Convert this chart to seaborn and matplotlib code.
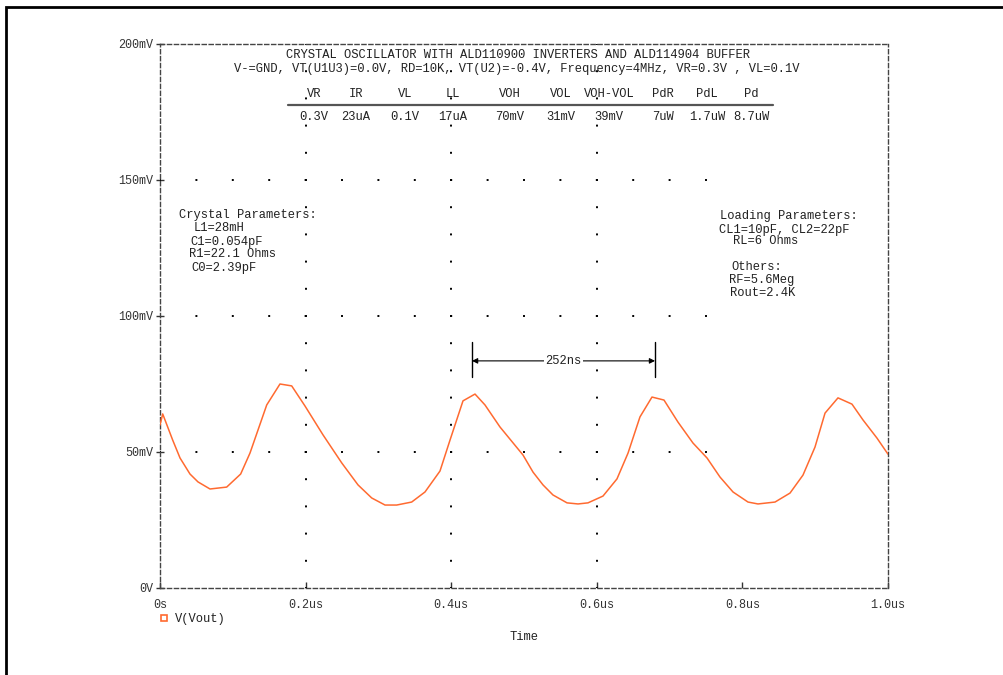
import matplotlib
matplotlib.use("Agg")
from matplotlib import pyplot as plt
from matplotlib.lines import Line2D
from matplotlib.patches import Rectangle
import seaborn as sns

# ---- data ----
time_us = [0.000, 0.0037, 0.0174, 0.0275, 0.0412, 0.0522, 0.0687, 0.0916, 0.1108, 0.1236,
           0.1466, 0.1648, 0.1809, 0.1992, 0.2239, 0.2496, 0.2720, 0.2908, 0.3091, 0.3251,
           0.3457, 0.3640, 0.3846, 0.3984, 0.4162, 0.4327, 0.4464, 0.4670, 0.4986, 0.5124,
           0.5261, 0.5398, 0.5591, 0.5742, 0.5879, 0.6085, 0.6277, 0.6429, 0.6593, 0.6758,
           0.6923, 0.7115, 0.7321, 0.7514, 0.7692, 0.7871, 0.8077, 0.8214, 0.8448, 0.8654,
           0.8832, 0.8997, 0.9135, 0.9313, 0.9505, 0.9656, 0.9849, 1.000]
vout_mv = [59.9, 64.0, 54.4, 47.8, 41.9, 39.0, 36.4, 37.1, 41.9, 49.6,
           67.3, 75.0, 74.3, 66.9, 56.3, 46.0, 37.9, 33.1, 30.5, 30.5,
           31.6, 35.3, 43.0, 54.4, 68.8, 71.3, 67.3, 59.2, 48.9, 42.6,
           37.9, 34.2, 31.3, 30.9, 31.3, 33.8, 40.1, 49.6, 62.9, 70.2,
           69.1, 61.0, 53.3, 47.8, 40.8, 35.3, 31.6, 30.9, 31.6, 34.9,
           41.5, 51.8, 64.3, 69.9, 67.6, 61.8, 55.1, 49.2]

x_ticks = [0.0, 0.2, 0.4, 0.6, 0.8, 1.0]
x_tick_labels = ["0s", "0.2us", "0.4us", "0.6us", "0.8us", "1.0us"]
y_ticks = [0, 50, 100, 150, 200]
y_tick_labels = ["0V", "50mV", "100mV", "150mV", "200mV"]

title_lines = ["CRYSTAL OSCILLATOR WITH ALD110900 INVERTERS AND ALD114904 BUFFER",
               "V-=GND, VT(U1U3)=0.0V, RD=10K, VT(U2)=-0.4V, Frequency=4MHz, VR=0.3V , VL=0.1V"]
table_headers = ["VR", "IR", "VL", "LL", "VOH", "VOL", "VOH-VOL", "PdR", "PdL", "Pd"]
table_values = ["0.3V", "23uA", "0.1V", "17uA", "70mV", "31mV", "39mV", "7uW", "1.7uW", "8.7uW"]
crystal_lines = ["Crystal Parameters:", "L1=28mH", "C1=0.054pF", "R1=22.1 Ohms", "C0=2.39pF"]
loading_lines = ["Loading Parameters:", "CL1=10pF, CL2=22pF", "RL=6 Ohms",
                 "Others:", "RF=5.6Meg", "Rout=2.4K"]
period_start, period_end = 0.4286, 0.680
period_label = "252ns"
series_name = "V(Vout)"

# ---- layout ----
col_x = [0.2115, 0.2692, 0.3365, 0.4025, 0.4808, 0.5508, 0.6168, 0.6909, 0.7514, 0.8118]
crystal_pos = [(0.0261, 137.1), (0.0467, 132.4), (0.0412, 127.2), (0.0398, 122.8), (0.0426, 117.6)]
loading_pos = [(0.7692, 136.8), (0.7679, 131.6), (0.7871, 127.6),
               (0.7844, 118.0), (0.7816, 113.2), (0.7830, 108.5)]

sns.set_style("white")
plt.rcParams['font.family'] = ['Liberation Mono', 'DejaVu Sans Mono']
plt.rcParams['lines.scale_dashes'] = False

line_color = '#ff6a30'
text_color = '#222222'
fs = 8.7

fig = plt.figure(figsize=(10.04, 6.75), dpi=100)
ax = fig.add_axes([160 / 1004, 87 / 675, 728 / 1004, 544 / 675])

sns.lineplot(x=time_us, y=vout_mv, ax=ax, color=line_color, linewidth=1.1, zorder=5)

ax.set_xlim(0, 1.0)
ax.set_ylim(0, 200)

# dotted grid, PSpice style: one dot every 0.05us / 10mV
bbox = ax.get_position()
w_pt = bbox.width * fig.get_figwidth() * 72
h_pt = bbox.height * fig.get_figheight() * 72
hx = w_pt * 0.05
vy = h_pt * 10 / 200
for gx in [0.2, 0.4, 0.6]:
    ax.plot([gx, gx], [0, 200], color='black', lw=1.4, solid_capstyle='butt',
            dash_capstyle='butt', linestyle=(0.7, (1.4, vy - 1.4)), zorder=1)
for gy in [50, 100, 150]:
    ax.plot([0, 0.752], [gy, gy], color='black', lw=1.4, dash_capstyle='butt',
            linestyle=(0.7, (1.4, hx - 1.4)), zorder=1)

# dashed frame
for s in ax.spines.values():
    s.set_linestyle((0, (3, 2)))
    s.set_color('#444444')
    s.set_linewidth(1.0)

ax.set_xticks(x_ticks, x_tick_labels)
ax.set_yticks(y_ticks, y_tick_labels)
ax.tick_params(axis='x', direction='in', length=4, width=1, color='#333333', pad=8,
               labelsize=8.5, labelcolor='#333333', bottom=True)
ax.tick_params(axis='y', direction='inout', length=6, width=1, color='#333333', pad=2,
               labelsize=8.5, labelcolor='#333333', left=True)
ax.set_xlabel("Time", fontsize=fs, color=text_color, labelpad=14)
ax.set_ylabel("")

# title block
ax.text(0.4918, 196.0, title_lines[0], ha='center', va='center', fontsize=fs, color=text_color)
ax.text(0.4904, 190.8, title_lines[1], ha='center', va='center', fontsize=fs, color=text_color)

# results table
for cx, head, val in zip(col_x, table_headers, table_values):
    ax.text(cx, 181.6, head, ha='center', va='center', fontsize=fs, color=text_color)
    ax.text(cx, 173.2, val, ha='center', va='center', fontsize=fs, color=text_color)
ax.plot([0.1758, 0.842], [177.6, 177.6], color='#555555', lw=1.6, zorder=3)

# parameter notes
for (tx, ty), s in zip(crystal_pos, crystal_lines):
    ax.text(tx, ty, s, ha='left', va='center', fontsize=fs, color=text_color)
for (tx, ty), s in zip(loading_pos, loading_lines):
    ax.text(tx, ty, s, ha='left', va='center', fontsize=fs, color=text_color)

# period measurement
for px in [period_start, period_end]:
    ax.plot([px, px], [77.6, 90.4], color='black', lw=1.0, zorder=4)
ax.annotate('', xy=(period_start, 83.5), xytext=(period_end, 83.5),
            arrowprops=dict(arrowstyle='<|-|>', color='black', lw=0.8,
                            shrinkA=0, shrinkB=0, mutation_scale=8))
ax.text((period_start + period_end) / 2, 83.5, period_label, ha='center', va='center',
        fontsize=fs, color=text_color, zorder=6,
        bbox=dict(boxstyle='square,pad=0.1', fc='white', ec='none'))

# legend under the axis
handle = Line2D([], [], marker='s', linestyle='none', markersize=5,
                markerfacecolor='white', markeredgecolor=line_color, markeredgewidth=1.2)
ax.legend(handles=[handle], labels=[series_name], loc='center left',
          bbox_to_anchor=(-0.008, -0.057), frameon=False, handlelength=0.8,
          handletextpad=0.5, borderaxespad=0, prop={'size': fs},
          labelcolor=text_color)

# outer page border (top and left only visible)
fig.add_artist(Rectangle((6 / 1004, -0.1), 1.2, 1.1 - 7 / 675, transform=fig.transFigure,
                         fill=False, edgecolor='black', linewidth=2.0))

fig.savefig("out.png", dpi=100)
